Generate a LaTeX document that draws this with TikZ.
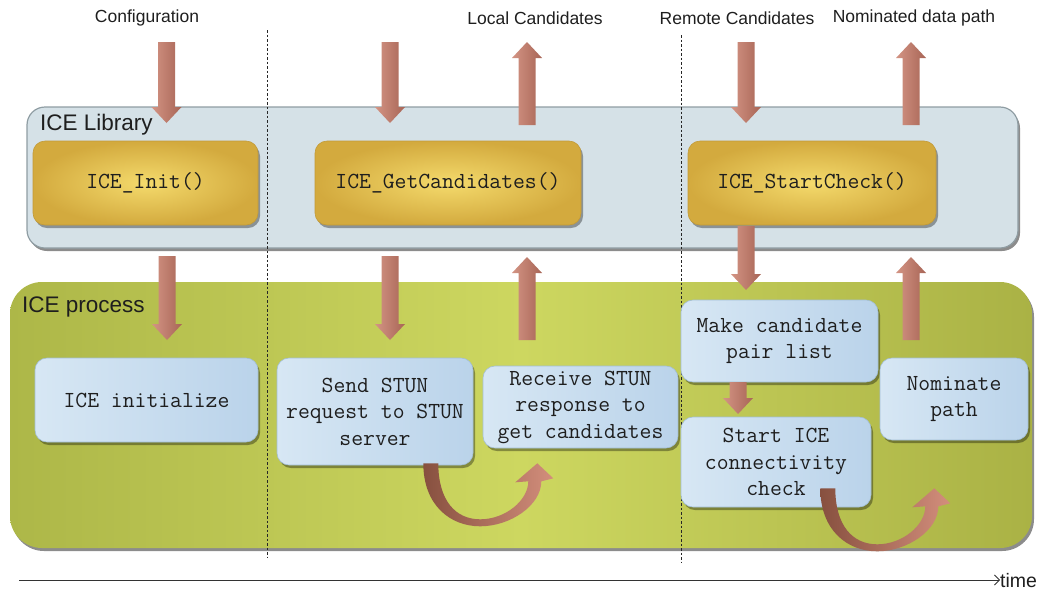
\documentclass[tikz,border=0pt]{standalone}
\usepackage{fontspec}
\setmainfont{Liberation Sans}
\usetikzlibrary{calc,shadows,arrows.meta}

\definecolor{inkc}{HTML}{1E1E1E}
\definecolor{libfill}{HTML}{D5E1E7}
\definecolor{libline}{HTML}{8F9DA3}
\definecolor{procL}{HTML}{ADB748}
\definecolor{procM}{HTML}{CDD760}
\definecolor{procR}{HTML}{AAB245}
\definecolor{goldIn}{HTML}{F4DA6C}
\definecolor{goldOut}{HTML}{D3AA3E}
\definecolor{goldLine}{HTML}{C29A38}
\definecolor{blueL}{HTML}{D7E7F4}
\definecolor{blueR}{HTML}{BAD3EA}
\definecolor{blueLine}{HTML}{A3BFD6}
\definecolor{arrL}{HTML}{D39484}
\definecolor{arrR}{HTML}{A86556}
\definecolor{turnL}{HTML}{87503F}
\definecolor{turnR}{HTML}{D38E7C}

% vertical block arrow from the tail point #1 to the tip point #2
\newcommand\blockarr[2]{%
  \path[arrowbody] let \p1=#1, \p2=#2, \n1={sign(\y2-\y1)} in
    ({\x1-8.5pt},\y1) -- ({\x1-8.5pt},{\y2-(\n1)*16pt})
    -- ({\x1-15pt},{\y2-(\n1)*16pt}) -- (\x2,\y2)
    -- ({\x1+15pt},{\y2-(\n1)*16pt}) -- ({\x1+8.5pt},{\y2-(\n1)*16pt})
    -- ({\x1+8.5pt},\y1) -- cycle;}

% typewriter face used inside the boxes
\newcommand\boxface{\fontsize{23}{26.5}\ttfamily\addfontfeature{FakeStretch=0.9,FakeBold=0.3}}

\begin{document}
\begin{tikzpicture}[x=1pt,y=-1pt,
  label/.style={font=\fontsize{17.5}{20}\selectfont, text=inkc, inner sep=0pt},
  paneltitle/.style={font=\fontsize{22.5}{26}\selectfont, text=inkc, inner sep=0pt, anchor=base west},
  softshadow/.style={drop shadow={shadow xshift=2pt, shadow yshift=-3pt, opacity=0.35, fill=black}},
  ybox/.style={rounded corners=12pt, draw=goldLine, line width=0.6pt,
    inner color=goldIn, outer color=goldOut, softshadow,
    font=\boxface, text=inkc},
  bbox/.style={rounded corners=12pt, draw=blueLine, line width=0.6pt,
    left color=blueL, right color=blueR, softshadow,
    font=\boxface, text=inkc, align=center},
  arrowbody/.style={left color=arrL, right color=arrR},
  turnbody/.style={left color=turnL, right color=turnR},
  divider/.style={draw=black!85, line width=0.8pt, dash pattern=on 2.5pt off 2pt},
  uturn/.pic={
    \path[turnbody] (0,0) .. controls (0,42) and (27,63) .. (57,63)
      .. controls (87,63) and (118,42) .. (118,18)
      -- (130,15) -- (114,0) -- (92,19) -- (105,18)
      .. controls (105,37) and (82,56) .. (57,56)
      .. controls (32,56) and (15,37) .. (15,0) -- cycle;}
]
\useasboundingbox (0,0) rectangle (1038,590);

% panels
\node[draw=libline, line width=1.2pt, fill=libfill, rounded corners=18pt,
      minimum width=991pt, minimum height=141pt,
      drop shadow={shadow xshift=2pt, shadow yshift=-3pt, opacity=0.45, fill=black}]
      (lib) at (522.5,177.5) {};
\node[paneltitle] (libtitle) at (40,130) {ICE Library};

\node[rounded corners=32pt, left color=procL, right color=procR, middle color=procM,
      minimum width=1022pt, minimum height=266pt,
      drop shadow={shadow xshift=2pt, shadow yshift=-3pt, opacity=0.45, fill=black}]
      (proc) at (521,415) {};
\node[paneltitle] (proctitle) at (22,312) {ICE process};

% phase dividers
\coordinate (d1t) at (267,30);  \coordinate (d1b) at (267,557);
\coordinate (d2t) at (681,35);  \coordinate (d2b) at (681,562);
\draw[divider] (d1t) -- (d1b);
\draw[divider] (d2t) -- (d2b);

% inputs and outputs
\node[label] (cfg)   at (147,18) {Configuration};
\node[label] (local) at (535,18) {Local Candidates};
\node[label] (remote) at (737,18) {Remote Candidates};
\node[label] (nomout) at (914,18) {Nominated data path};

% library calls
\node[ybox, minimum width=225pt, minimum height=84pt] (init)   at (145.5,183) {ICE\_Init()};
\node[ybox, minimum width=266pt, minimum height=84pt] (getc)   at (448,183)   {ICE\_GetCandidates()};
\node[ybox, minimum width=248pt, minimum height=84pt] (startc) at (812,183)   {ICE\_StartCheck()};

% process steps
\node[bbox, minimum width=223pt, minimum height=84pt]  (initz) at (146.5,400) {ICE initialize};
\node[bbox, minimum width=196pt, minimum height=107pt] (send)  at (375,411.5) {Send STUN\\request to STUN\\server};
\node[bbox, minimum width=195pt, minimum height=82pt]  (recv)  at (580.5,407) {Receive STUN\\response to\\get candidates};
\node[bbox, minimum width=197pt, minimum height=82pt]  (make)  at (779.5,341) {Make candidate\\pair list};
\node[bbox, minimum width=190pt, minimum height=90pt]  (start) at (776,462)   {Start ICE\\connectivity\\check};
\node[bbox, minimum width=148pt, minimum height=82pt]  (nom)   at (954,399)   {Nominate\\path};

% block arrows
\coordinate (a1s) at (166.5,42);  \coordinate (a1e) at (166.5,123);
\coordinate (a2s) at (390,42);    \coordinate (a2e) at (390,123);
\coordinate (a3s) at (527,125);   \coordinate (a3e) at (527,42);
\coordinate (a4s) at (746,42);    \coordinate (a4e) at (746,123);
\coordinate (a5s) at (911,125);   \coordinate (a5e) at (911,42);
\coordinate (a6s) at (167,256);   \coordinate (a6e) at (167,340);
\coordinate (a7s) at (390,256);   \coordinate (a7e) at (390,340);
\coordinate (a8s) at (527,340);   \coordinate (a8e) at (527,257);
\coordinate (a9s) at (746,226);   \coordinate (a9e) at (746,290);
\coordinate (a10s) at (911,340);  \coordinate (a10e) at (911,257);
\coordinate (a11s) at (738,382);  \coordinate (a11e) at (738,414);
\blockarr{(a1s)}{(a1e)}
\blockarr{(a2s)}{(a2e)}
\blockarr{(a3s)}{(a3e)}
\blockarr{(a4s)}{(a4e)}
\blockarr{(a5s)}{(a5e)}
\blockarr{(a6s)}{(a6e)}
\blockarr{(a7s)}{(a7e)}
\blockarr{(a8s)}{(a8e)}
\blockarr{(a9s)}{(a9e)}
\blockarr{(a10s)}{(a10e)}
\blockarr{(a11s)}{(a11e)}

% U-turn arrows between steps
\path ([xshift=-50pt,yshift=2pt]send.south east) pic {uturn};
\path ([xshift=-51pt,yshift=19pt]start.south east) pic {uturn};

% time axis
\node[font=\fontsize{19.5}{22}\selectfont, inner sep=0pt, anchor=base west, text=inkc]
      (timelbl) at (1000,587) {time};
\coordinate (t0) at (19,580);
\draw[line width=0.8pt, black!80, -{Straight Barb[length=5pt,width=10pt]}]
      (t0) -- (t0 -| timelbl.west);
\end{tikzpicture}
\end{document}
